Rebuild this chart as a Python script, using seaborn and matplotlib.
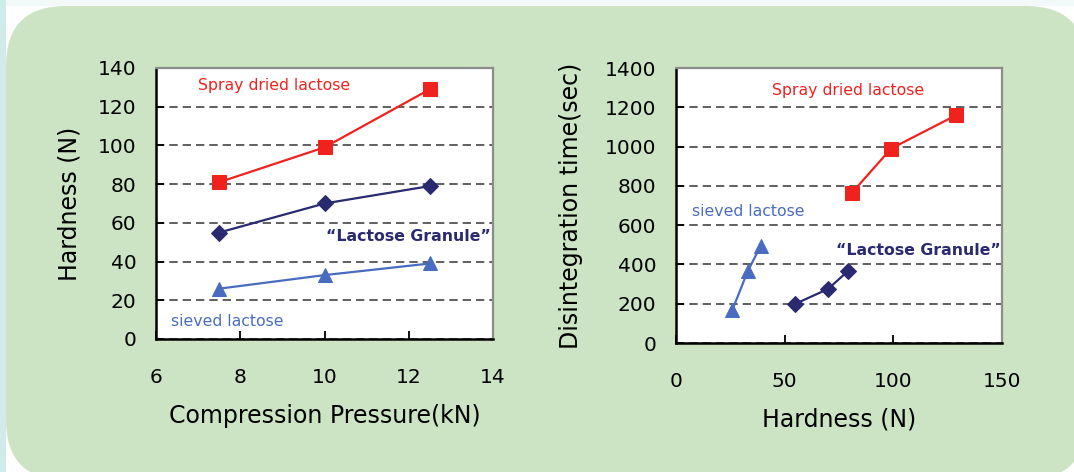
import matplotlib as mpl
import matplotlib.pyplot as plt
import pandas as pd
import seaborn as sns
from matplotlib.patches import FancyBboxPatch, Rectangle

# data
pressure = [7.5, 10, 12.5]
hard_spray = [81, 99, 129]
hard_granule = [55, 70, 79]
hard_sieved = [26, 33, 39]

time_spray = [765, 990, 1160]
time_granule = [200, 275, 365]
time_sieved = [170, 365, 495]

series_names = ['Spray dried lactose', '\u201cLactose Granule\u201d', 'sieved lactose']
colors = ['#f0221e', '#2a2a70', '#4a6cc0']
markers = ['s', 'D', '^']
msizes = [9.5, 8.5, 10.5]

sns.set_style('white')
mpl.rcParams['font.family'] = ['DejaVu Sans']
mpl.rcParams['text.color'] = 'black'
mpl.rcParams['axes.labelcolor'] = 'black'
mpl.rcParams['xtick.color'] = 'black'
mpl.rcParams['ytick.color'] = 'black'

fig = plt.figure(figsize=(10.74, 4.72), dpi=100)
fig.patch.set_facecolor('#f3f9f8')

# background panel (behind the axes)
fig.patches.append(Rectangle((0, 0), 0.06, 4.72, transform=fig.dpi_scale_trans,
                             facecolor='#cfeceb', edgecolor='none', zorder=-3))
fig.patches.append(Rectangle((0.06, 0), 10.74, 4.66, transform=fig.dpi_scale_trans,
                             facecolor='white', edgecolor='none', zorder=-2))
fig.patches.append(FancyBboxPatch((0.06, -0.08), 10.8, 4.74,
                                  boxstyle='round,pad=0,rounding_size=0.6',
                                  transform=fig.dpi_scale_trans,
                                  facecolor='#cce4c3', edgecolor='none', zorder=-1))

ax1 = fig.add_axes([0.1453, 0.2818, 0.3138, 0.5742])
ax2 = fig.add_axes([0.6294, 0.2733, 0.3035, 0.5826])

hard = [hard_spray, hard_granule, hard_sieved]
times = [time_spray, time_granule, time_sieved]

for i in range(3):
    df = pd.DataFrame({'p': pressure, 'h': hard[i], 't': times[i]})
    sns.lineplot(data=df, x='p', y='h', ax=ax1, color=colors[i], marker=markers[i],
                 markersize=msizes[i], markeredgecolor=colors[i], linewidth=1.6, zorder=3)
    sns.lineplot(data=df, x='h', y='t', ax=ax2, color=colors[i], marker=markers[i],
                 markersize=msizes[i], markeredgecolor=colors[i], linewidth=1.6, zorder=3,
                 sort=False)


def style_axes(ax, xlim, xticks, ylim, yticks, xlabel, ylabel, ylabpad):
    ax.set_facecolor('white')
    ax.set_xlim(*xlim)
    ax.set_ylim(*ylim)
    ax.set_xticks(xticks)
    ax.set_yticks(yticks)
    ax.set_xlabel(xlabel, fontsize=17, labelpad=12)
    ax.set_ylabel(ylabel, fontsize=17, labelpad=ylabpad)
    ax.tick_params(axis='x', direction='in', length=6, width=1.3, pad=21,
                   labelsize=14.5, bottom=True, colors='black')
    ax.tick_params(axis='y', direction='in', length=6, width=1.3, pad=14,
                   labelsize=14.5, left=True, colors='black')
    ax.set_axisbelow(True)
    ax.yaxis.grid(True, linestyle=(0, (5, 3)), color='#444444', linewidth=1.2)
    ax.xaxis.grid(False)
    for s in ['left', 'bottom']:
        ax.spines[s].set_color('black')
        ax.spines[s].set_linewidth(1.8)
    for s in ['top', 'right']:
        ax.spines[s].set_color('#8c8c8c')
        ax.spines[s].set_linewidth(1.6)
        ax.spines[s].set_visible(True)


style_axes(ax1, (6, 14), [6, 8, 10, 12, 14], (0, 140), range(0, 141, 20),
           'Compression Pressure(kN)', 'Hardness (N)', 12)
style_axes(ax2, (0, 150), [0, 50, 100, 150], (0, 1400), range(0, 1401, 200),
           'Hardness (N)', 'Disintegration time(sec)', 16)

# series labels
ax1.text(7.0, 131, series_names[0], color=colors[0], fontsize=11.3, va='center')
ax1.text(13.95, 53, series_names[1], color=colors[1], fontsize=11.3,
         fontweight='bold', va='center', ha='right')
ax1.text(6.35, 9, series_names[2], color=colors[2], fontsize=11.3, va='center')

ax2.text(44, 1287, series_names[0], color=colors[0], fontsize=11.3, va='center')
ax2.text(149.5, 472, series_names[1], color=colors[1], fontsize=11.3,
         fontweight='bold', va='center', ha='right')
ax2.text(7.4, 672, series_names[2], color=colors[2], fontsize=11.3, va='center')

fig.savefig('out.png', dpi=100, facecolor=fig.get_facecolor())
